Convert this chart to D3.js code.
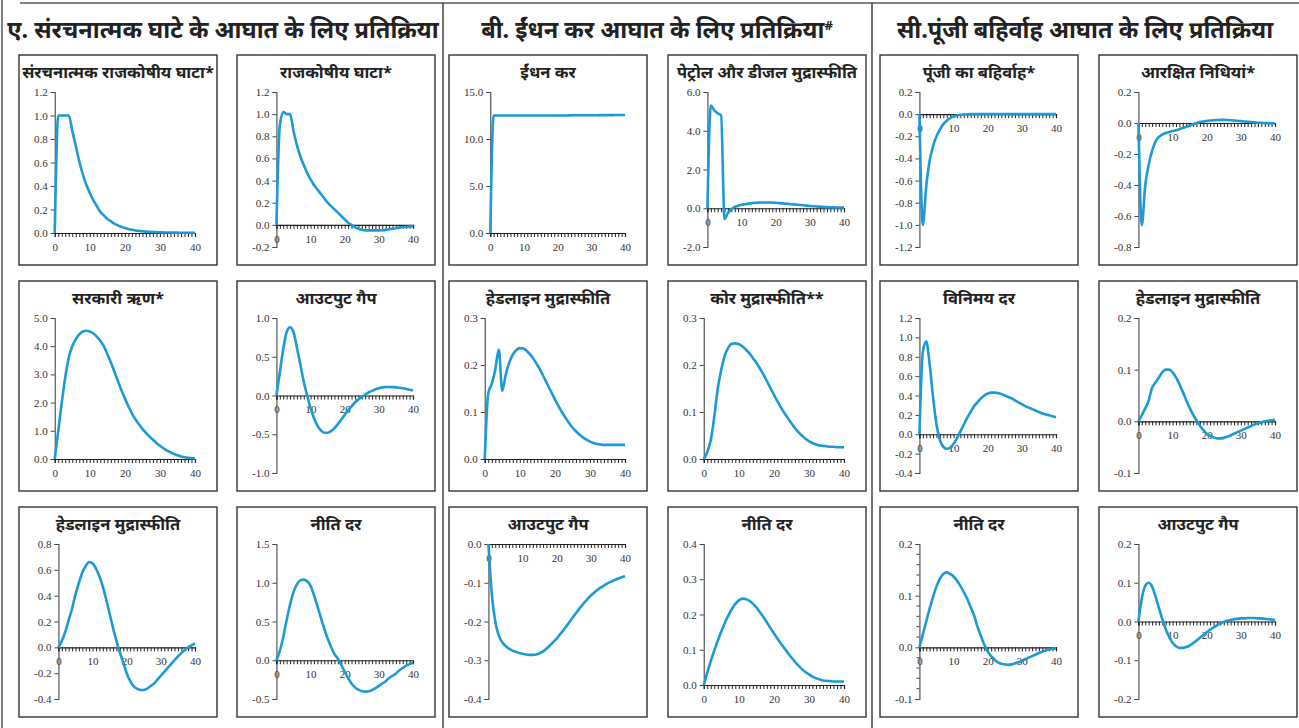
<!DOCTYPE html>
<html><head><meta charset="utf-8">
<script src="https://cdn.jsdelivr.net/npm/d3@7"></script>
<style>
body{margin:0;background:#fff;}
svg{display:block;}
</style></head>
<body>
<svg id="chart" width="1299" height="728"></svg>
<script>
// ---------- DATA ----------
const periods = d3.range(0, 41);
const xTickLabels = [0, 10, 20, 30, 40];

const sectionTitles = [
  "ए. संरचनात्मक घाटे के आघात के लिए प्रतिक्रिया",
  "बी. ईंधन कर आघात के लिए प्रतिक्रिया",
  "सी.पूंजी बहिर्वाह आघात के लिए प्रतिक्रिया"
];

const panelTitles = [
  ["संरचनात्मक राजकोषीय घाटा*", "राजकोषीय घाटा*", "सरकारी ऋण*", "आउटपुट गैप", "हेडलाइन मुद्रास्फीति", "नीति दर"],
  ["ईंधन कर", "पेट्रोल और डीजल मुद्रास्फीति", "हेडलाइन मुद्रास्फीति", "कोर मुद्रास्फीति**", "आउटपुट गैप", "नीति दर"],
  ["पूंजी का बहिर्वाह*", "आरक्षित निधियां*", "विनिमय दर", "हेडलाइन मुद्रास्फीति", "नीति दर", "आउटपुट गैप"]
];

// Section A: structural deficit shock
const structDeficit = [0,1.0,1.0,1.0,1.0,0.87,0.74,0.61,0.50,0.41,0.34,0.28,0.23,0.18,0.15,0.12,0.10,0.08,0.065,0.052,0.042,0.034,0.027,0.022,0.018,0.015,0.012,0.010,0.008,0.007,0.006,0.005,0.004,0.004,0.003,0.003,0.002,0.002,0.002,0.001,0.001];
const fiscalDeficit = [0,0.9,1.02,1.0,1.0,0.85,0.72,0.62,0.54,0.47,0.41,0.36,0.32,0.28,0.24,0.20,0.17,0.14,0.11,0.08,0.05,0.02,0.0,-0.02,-0.035,-0.045,-0.05,-0.05,-0.05,-0.05,-0.05,-0.048,-0.045,-0.04,-0.035,-0.03,-0.025,-0.02,-0.018,-0.015,-0.012];
const govDebt = [0,1.0,2.0,2.9,3.6,4.0,4.25,4.42,4.52,4.55,4.52,4.45,4.34,4.19,4.0,3.72,3.42,3.1,2.77,2.45,2.15,1.87,1.62,1.41,1.23,1.07,0.93,0.8,0.68,0.57,0.47,0.38,0.3,0.24,0.18,0.13,0.09,0.06,0.04,0.03,0.02];
const outputGapA = [0,0.3,0.6,0.82,0.88,0.82,0.62,0.4,0.18,0.0,-0.16,-0.29,-0.39,-0.45,-0.48,-0.48,-0.46,-0.42,-0.37,-0.31,-0.25,-0.19,-0.14,-0.09,-0.05,-0.02,0.01,0.04,0.06,0.08,0.095,0.105,0.11,0.11,0.108,0.105,0.1,0.093,0.085,0.075,0.065];
const headlineA = [0,0.05,0.12,0.21,0.3,0.41,0.5,0.58,0.63,0.66,0.65,0.61,0.55,0.47,0.37,0.26,0.15,0.05,-0.04,-0.12,-0.2,-0.26,-0.3,-0.32,-0.33,-0.33,-0.32,-0.3,-0.28,-0.25,-0.22,-0.19,-0.16,-0.13,-0.1,-0.07,-0.045,-0.02,0.0,0.015,0.03];
const policyRateA = [0,0.12,0.3,0.52,0.72,0.88,0.98,1.03,1.04,1.02,0.96,0.84,0.7,0.55,0.41,0.28,0.17,0.08,0.02,-0.06,-0.15,-0.23,-0.3,-0.35,-0.38,-0.4,-0.405,-0.4,-0.385,-0.36,-0.33,-0.3,-0.27,-0.23,-0.2,-0.17,-0.13,-0.1,-0.07,-0.05,-0.03];

// Section B: fuel tax shock
const fuelTax = [0,12.5,12.5,12.5,12.5,12.5,12.5,12.5,12.5,12.5,12.5,12.5,12.5,12.5,12.5,12.5,12.5,12.5,12.5,12.5,12.5,12.5,12.5,12.5,12.52,12.52,12.52,12.52,12.52,12.53,12.53,12.53,12.53,12.54,12.54,12.54,12.54,12.55,12.55,12.55,12.55];
const petrolDiesel = [0,5.3,5.05,4.9,4.8,-0.55,-0.25,-0.05,0.07,0.13,0.18,0.21,0.24,0.26,0.28,0.29,0.3,0.3,0.3,0.29,0.28,0.265,0.25,0.235,0.22,0.2,0.185,0.17,0.155,0.135,0.12,0.105,0.09,0.08,0.07,0.06,0.05,0.045,0.04,0.035,0.03];
const headlineB = [0,0.14,0.16,0.19,0.233,0.145,0.18,0.205,0.222,0.232,0.236,0.235,0.23,0.222,0.212,0.2,0.187,0.172,0.157,0.142,0.127,0.113,0.1,0.088,0.077,0.067,0.059,0.052,0.046,0.041,0.037,0.034,0.032,0.031,0.03,0.03,0.03,0.03,0.03,0.03,0.03];
const coreB = [0,0.015,0.04,0.09,0.15,0.19,0.22,0.237,0.245,0.246,0.244,0.24,0.233,0.225,0.215,0.205,0.193,0.18,0.166,0.151,0.137,0.123,0.11,0.098,0.087,0.076,0.066,0.057,0.05,0.043,0.038,0.034,0.031,0.029,0.028,0.027,0.026,0.026,0.025,0.025,0.025];
const outputGapB = [0,-0.13,-0.2,-0.235,-0.253,-0.263,-0.27,-0.275,-0.278,-0.281,-0.283,-0.285,-0.286,-0.286,-0.285,-0.282,-0.277,-0.27,-0.262,-0.253,-0.244,-0.233,-0.222,-0.21,-0.198,-0.186,-0.174,-0.163,-0.152,-0.142,-0.133,-0.125,-0.118,-0.112,-0.106,-0.101,-0.097,-0.093,-0.089,-0.086,-0.083];
const policyRateB = [0,0.035,0.068,0.098,0.126,0.152,0.176,0.197,0.215,0.23,0.24,0.245,0.244,0.239,0.231,0.22,0.207,0.193,0.178,0.162,0.147,0.132,0.118,0.104,0.091,0.078,0.066,0.055,0.045,0.037,0.03,0.024,0.019,0.016,0.013,0.012,0.011,0.01,0.01,0.01,0.01];

// Section C: capital outflow shock
const capOutflow = [0,-1.0,-0.65,-0.42,-0.29,-0.2,-0.14,-0.09,-0.06,-0.035,-0.02,-0.012,-0.006,-0.003,-0.001,0,0,0.001,0.001,0.001,0.001,0.001,0.001,0.001,0.001,0.001,0.001,0.001,0,0,0,0,0,0,0,0,0,0,0,0,0];
const reserves = [0,-0.66,-0.40,-0.27,-0.18,-0.12,-0.09,-0.075,-0.065,-0.058,-0.052,-0.047,-0.04,-0.032,-0.025,-0.016,-0.008,0.0,0.006,0.01,0.013,0.016,0.018,0.019,0.02,0.02,0.019,0.018,0.016,0.014,0.012,0.01,0.008,0.006,0.004,0.002,0.001,0,-0.001,-0.002,-0.003];
const exchRate = [0,0.85,0.96,0.72,0.38,0.1,-0.06,-0.13,-0.15,-0.14,-0.1,-0.04,0.03,0.1,0.17,0.23,0.29,0.33,0.37,0.4,0.42,0.43,0.43,0.425,0.415,0.4,0.385,0.37,0.35,0.33,0.31,0.29,0.275,0.26,0.245,0.23,0.215,0.205,0.195,0.185,0.175];
const headlineC = [0,0.012,0.025,0.04,0.065,0.075,0.085,0.095,0.1,0.1,0.095,0.085,0.072,0.057,0.041,0.026,0.013,0.002,-0.008,-0.017,-0.024,-0.028,-0.031,-0.033,-0.033,-0.032,-0.03,-0.027,-0.024,-0.021,-0.018,-0.015,-0.012,-0.009,-0.006,-0.004,-0.002,0.0,0.001,0.002,0.003];
const policyRateC = [0,0.025,0.05,0.075,0.098,0.118,0.133,0.142,0.145,0.142,0.137,0.129,0.119,0.107,0.094,0.078,0.062,0.04,0.022,0.005,-0.008,-0.017,-0.024,-0.029,-0.032,-0.033,-0.034,-0.033,-0.031,-0.029,-0.026,-0.023,-0.02,-0.017,-0.014,-0.011,-0.008,-0.006,-0.004,-0.003,-0.002];
const outputGapC = [0,0.06,0.092,0.1,0.09,0.065,0.035,0.006,-0.02,-0.04,-0.055,-0.064,-0.068,-0.068,-0.066,-0.062,-0.056,-0.049,-0.042,-0.035,-0.028,-0.021,-0.015,-0.01,-0.005,-0.001,0.002,0.004,0.006,0.007,0.008,0.008,0.009,0.009,0.009,0.008,0.008,0.007,0.006,0.005,0.004];

// y tick labels per panel
const yTicksStructDeficit = [0,0.2,0.4,0.6,0.8,1.0,1.2];
const yTicksFiscalDeficit = [-0.2,0,0.2,0.4,0.6,0.8,1.0,1.2];
const yTicksGovDebt = [0,1,2,3,4,5];
const yTicksOutputGapA = [-1,-0.5,0,0.5,1];
const yTicksHeadlineA = [-0.4,-0.2,0,0.2,0.4,0.6,0.8];
const yTicksPolicyRateA = [-0.5,0,0.5,1,1.5];
const yTicksFuelTax = [0,5,10,15];
const yTicksPetrolDiesel = [-2,0,2,4,6];
const yTicksHeadlineB = [0,0.1,0.2,0.3];
const yTicksCoreB = [0,0.1,0.2,0.3];
const yTicksOutputGapB = [-0.4,-0.3,-0.2,-0.1,0];
const yTicksPolicyRateB = [0,0.1,0.2,0.3,0.4];
const yTicksCapOutflow = [-1.2,-1.0,-0.8,-0.6,-0.4,-0.2,0,0.2];
const yTicksReserves = [-0.8,-0.6,-0.4,-0.2,0,0.2];
const yTicksExchRate = [-0.4,-0.2,0,0.2,0.4,0.6,0.8,1.0,1.2];
const yTicksHeadlineC = [-0.1,0,0.1,0.2];
const yTicksPolicyRateC = [-0.1,0,0.1,0.2];
const yMinorPolicyRateC = [-0.08,-0.06,-0.04,-0.02,0.02,0.04,0.06,0.08,0.12,0.14,0.16,0.18];
const yTicksOutputGapC = [-0.2,-0.1,0,0.1,0.2];

// ---------- LAYOUT ----------
const svg = d3.select("#chart");
const colX = [19, 237, 449, 668, 880, 1099];
const rowY = [55, 281, 507];
const boxW = 198, boxH = 210;
const lineColor = "#1b9ad6";
const titleFont = "'Noto Sans', 'Lohit Devanagari', 'FreeSans', sans-serif";
const tickFont = "'Liberation Serif', 'DejaVu Serif', serif";

const panels = [
  {sec:0, col:0, row:0, values:structDeficit, ticks:yTicksStructDeficit},
  {sec:0, col:1, row:0, values:fiscalDeficit, ticks:yTicksFiscalDeficit},
  {sec:0, col:0, row:1, values:govDebt, ticks:yTicksGovDebt},
  {sec:0, col:1, row:1, values:outputGapA, ticks:yTicksOutputGapA},
  {sec:0, col:0, row:2, values:headlineA, ticks:yTicksHeadlineA},
  {sec:0, col:1, row:2, values:policyRateA, ticks:yTicksPolicyRateA},
  {sec:1, col:0, row:0, values:fuelTax, ticks:yTicksFuelTax},
  {sec:1, col:1, row:0, values:petrolDiesel, ticks:yTicksPetrolDiesel},
  {sec:1, col:0, row:1, values:headlineB, ticks:yTicksHeadlineB},
  {sec:1, col:1, row:1, values:coreB, ticks:yTicksCoreB},
  {sec:1, col:0, row:2, values:outputGapB, ticks:yTicksOutputGapB},
  {sec:1, col:1, row:2, values:policyRateB, ticks:yTicksPolicyRateB},
  {sec:2, col:0, row:0, values:capOutflow, ticks:yTicksCapOutflow},
  {sec:2, col:1, row:0, values:reserves, ticks:yTicksReserves},
  {sec:2, col:0, row:1, values:exchRate, ticks:yTicksExchRate},
  {sec:2, col:1, row:1, values:headlineC, ticks:yTicksHeadlineC},
  {sec:2, col:0, row:2, values:policyRateC, ticks:yTicksPolicyRateC, minor:yMinorPolicyRateC},
  {sec:2, col:1, row:2, values:outputGapC, ticks:yTicksOutputGapC}
];

// frame lines
svg.append("line").attr("x1",20).attr("x2",1299).attr("y1",3).attr("y2",3).attr("stroke","#555").attr("stroke-width",1.5);
svg.append("line").attr("x1",2).attr("x2",2).attr("y1",0).attr("y2",728).attr("stroke","#555").attr("stroke-width",1.5);
[443, 872].forEach(x => svg.append("line").attr("x1",x).attr("x2",x).attr("y1",3).attr("y2",728).attr("stroke","#444").attr("stroke-width",1.5));

// section titles
const secCenters = [223, 657, 1085];
sectionTitles.forEach((t, i) => {
  const txt = svg.append("text").attr("x", secCenters[i]).attr("y", 38)
    .attr("text-anchor","middle").attr("font-family", titleFont).attr("font-weight","bold")
    .attr("font-size", 23.5).attr("fill","#222").text(t);
  if (i === 1) txt.append("tspan").attr("dy",-8).attr("font-size",13).text("#");
});

const fmt = d => d3.format(".1f")(d).replace("\u2212","-");

panels.forEach(p => {
  const bx = colX[p.sec*2 + p.col], by = rowY[p.row];
  const g = svg.append("g");
  g.append("rect").attr("x",bx).attr("y",by).attr("width",boxW).attr("height",boxH)
    .attr("fill","#fff").attr("stroke","#333").attr("stroke-width",1.4);
  g.append("text").attr("x", bx + boxW/2).attr("y", by + 23).attr("text-anchor","middle")
    .attr("font-family", titleFont).attr("font-weight","bold").attr("font-size",16.5)
    .attr("fill","#222").text(panelTitles[p.sec][p.row*2 + p.col]);

  // measure label widths
  const meas = svg.append("g").attr("font-family", tickFont).attr("font-size", 11);
  let maxW = 0;
  p.ticks.forEach(t => { const tt = meas.append("text").text(fmt(t)); maxW = Math.max(maxW, tt.node().getComputedTextLength()); });
  meas.remove();

  const yMin = d3.min(p.ticks), yMax = d3.max(p.ticks);
  const left = bx + 22 + maxW, right = bx + 176;
  const top = by + 37, bottom = by + (yMin < 0 ? 192 : 178);
  const x = d3.scaleLinear().domain([0, 40]).range([left, right]);
  const y = d3.scaleLinear().domain([yMin, yMax]).range([bottom, top]);

  // y axis
  const ya = g.append("g").attr("transform", `translate(${left},0)`)
    .call(d3.axisLeft(y).tickValues(p.ticks).tickSize(4).tickPadding(3).tickFormat(fmt));
  if (p.minor) {
    ya.selectAll(".minor").data(p.minor).enter().append("line").attr("class","minor")
      .attr("x1",-3).attr("x2",0).attr("y1",d=>y(d)).attr("y2",d=>y(d)).attr("stroke","#444");
  }
  ya.select(".domain").attr("stroke","#555").attr("stroke-width",1.2);
  ya.selectAll(".tick line").attr("stroke","#444");
  ya.selectAll("text").attr("font-family", tickFont).attr("font-size",11).attr("fill","#333");

  // x axis at zero
  const xa = g.append("g").attr("transform", `translate(0,${y(0)})`)
    .call(d3.axisBottom(x).tickValues(periods).tickSize(4).tickPadding(6)
      .tickFormat(d => xTickLabels.includes(d) ? String(d) : ""));
  xa.select(".domain").attr("stroke","#222").attr("stroke-width",1.2);
  xa.selectAll(".tick line").attr("stroke","#222");
  xa.selectAll("text").attr("font-family", tickFont).attr("font-size",11).attr("fill","#333");

  // series line
  const line = d3.line().x((d,i) => x(periods[i])).y(d => y(d)).curve(d3.curveMonotoneX);
  g.append("path").datum(p.values).attr("d", line).attr("fill","none")
    .attr("stroke", lineColor).attr("stroke-width", 2.6).attr("stroke-linejoin","round");
});
</script>
</body></html>
